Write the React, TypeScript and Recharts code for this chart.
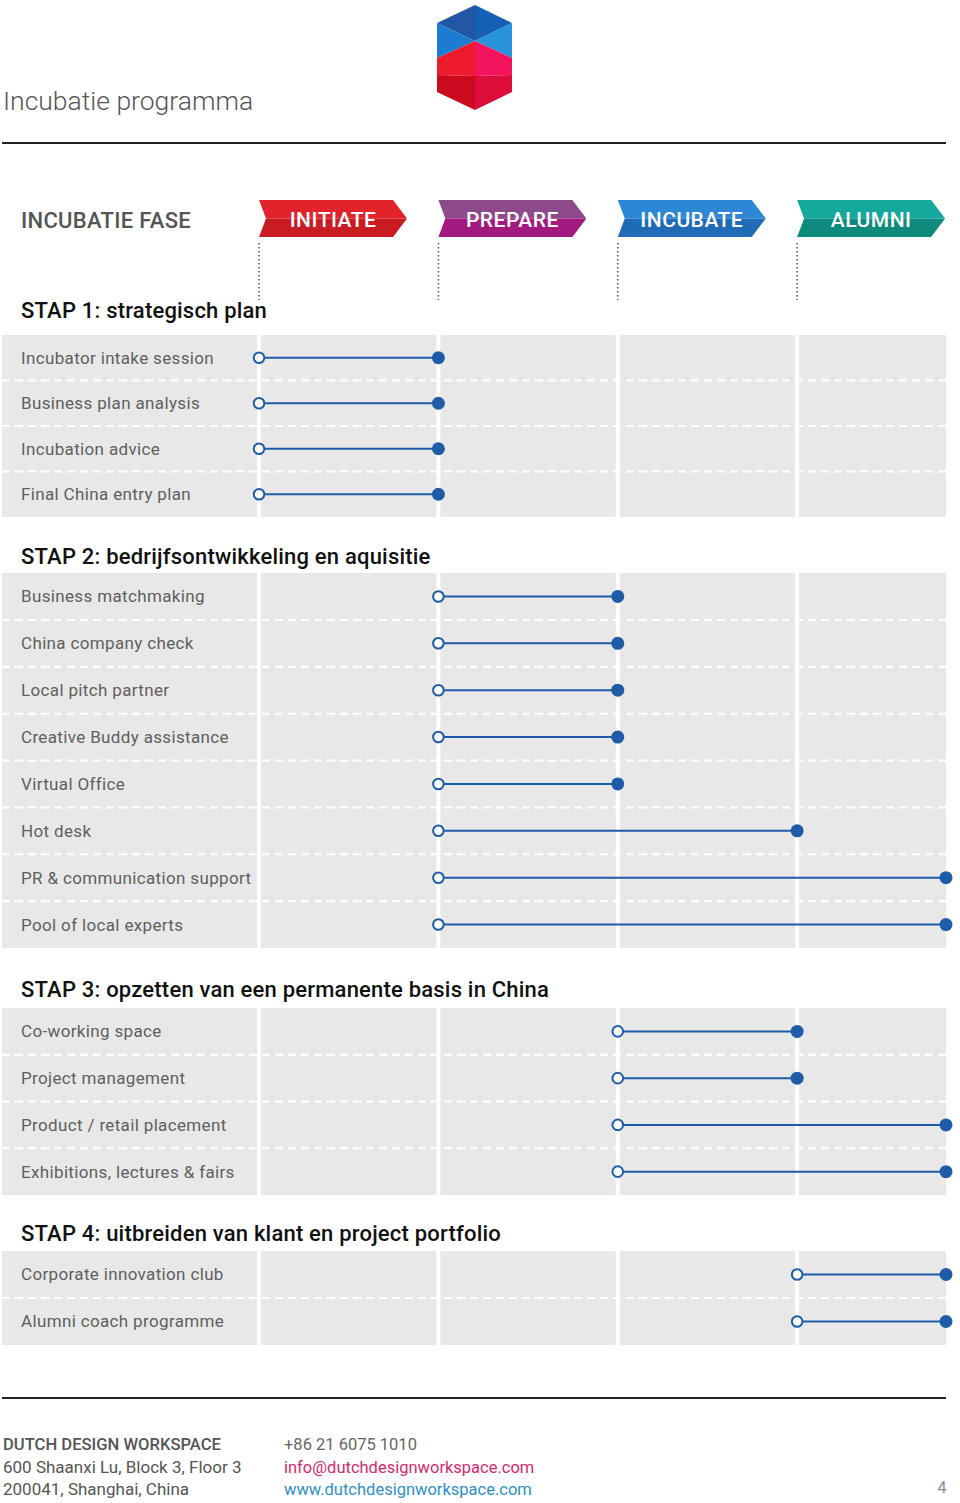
import React from "react";
import { ScatterChart, Scatter, XAxis, YAxis, CartesianGrid } from "recharts";

const PHASES = ["INITIATE", "PREPARE", "INCUBATE", "ALUMNI"];
const PHASE_TOP = ["#e3232b", "#8d4a8b", "#2c87d6", "#14a99c"];
const PHASE_BOTTOM = ["#c91b22", "#a2197f", "#1f6bb8", "#0e8b7c"];
// edges of the phases on the x axis, alumni is open ended so it is drawn shorter
const PHASE_EDGES = [0, 1, 2, 3, 3.83];

const STAP1_ITEMS = ["Incubator intake session", "Business plan analysis", "Incubation advice", "Final China entry plan"];
const STAP1_FROM = [0, 0, 0, 0];
const STAP1_TO = [1, 1, 1, 1];

const STAP2_ITEMS = [
  "Business matchmaking",
  "China company check",
  "Local pitch partner",
  "Creative Buddy assistance",
  "Virtual Office",
  "Hot desk",
  "PR & communication support",
  "Pool of local experts"
];
const STAP2_FROM = [1, 1, 1, 1, 1, 1, 1, 1];
const STAP2_TO = [2, 2, 2, 2, 2, 3, 4, 4];

const STAP3_ITEMS = ["Co-working space", "Project management", "Product / retail placement", "Exhibitions, lectures & fairs"];
const STAP3_FROM = [2, 2, 2, 2];
const STAP3_TO = [3, 3, 4, 4];

const STAP4_ITEMS = ["Corporate innovation club", "Alumni coach programme"];
const STAP4_FROM = [3, 3];
const STAP4_TO = [4, 4];

const STAP_TITLES = [
  "STAP 1: strategisch plan",
  "STAP 2: bedrijfsontwikkeling en aquisitie",
  "STAP 3: opzetten van een permanente basis in China",
  "STAP 4: uitbreiden van klant en project portfolio"
];

// layout
const FONT = "Roboto, 'DejaVu Sans', sans-serif";
const BLUE = "#1f5ca8";
const W = 960;
const MARGIN = { top: 0, right: 14, bottom: 0, left: 2 };
const X_DOMAIN: [number, number] = [-1.433, 3.83];
const HEAD_Y = [318, 564, 997, 1241];
const BLOCK_TOP = [335, 573, 1008, 1251];
const BLOCK_H = [182, 375, 187, 94];

const sections = [
  { items: STAP1_ITEMS, from: STAP1_FROM, to: STAP1_TO },
  { items: STAP2_ITEMS, from: STAP2_FROM, to: STAP2_TO },
  { items: STAP3_ITEMS, from: STAP3_FROM, to: STAP3_TO },
  { items: STAP4_ITEMS, from: STAP4_FROM, to: STAP4_TO }
];

function RowLabel(props: any) {
  return (
    <text x={props.cx + 19} y={props.cy} dy="0.35em" fontSize={17} fill="#5f5f5f" fontFamily={FONT} letterSpacing={0.35}>
      {props.payload.name}
    </text>
  );
}

function RowDot(props: any) {
  if (props.payload.end) return <circle cx={props.cx} cy={props.cy} r={6.5} fill={BLUE} />;
  return <circle cx={props.cx} cy={props.cy} r={5.3} fill="#fff" stroke={BLUE} strokeWidth={2} />;
}

function PhaseTick(props: any) {
  const { x, y, payload } = props;
  const i = payload.value as number;
  const top = y - 43;
  const bot = y - 6;
  const mid = (top + bot) / 2;
  const w = 148;
  return (
    <g>
      <polygon points={`${x},${top} ${x + w - 14},${top} ${x + w},${mid} ${x + 7},${mid}`} fill={PHASE_TOP[i]} />
      <polygon points={`${x + 7},${mid} ${x + w},${mid} ${x + w - 14},${bot} ${x},${bot}`} fill={PHASE_BOTTOM[i]} />
      <text x={x + 74} y={bot - 10} textAnchor="middle" fontSize={21} fontWeight={500} fill="#fff" fontFamily={FONT} letterSpacing={0.5}>
        {PHASES[i]}
      </text>
    </g>
  );
}

function PhaseHeader() {
  return (
    <div style={{ position: "absolute", left: 0, top: 198 }}>
      <ScatterChart width={W} height={102} margin={MARGIN}>
        <CartesianGrid horizontal={false} syncWithTicks stroke="#555" strokeWidth={1.5} strokeDasharray="1.5 2.5" />
        <XAxis
          type="number"
          dataKey="x"
          orientation="top"
          height={45}
          domain={X_DOMAIN}
          ticks={[0, 1, 2, 3]}
          interval={0}
          allowDataOverflow
          axisLine={false}
          tickLine={false}
          tickSize={0}
          tickMargin={0}
          tick={<PhaseTick />}
        />
        <YAxis type="number" dataKey="y" domain={[0, 1]} allowDataOverflow hide />
      </ScatterChart>
    </div>
  );
}

function Block({ idx }: { idx: number }) {
  const { items, from, to } = sections[idx];
  const n = items.length;
  const bounds = items.slice(1).map((_, i) => i + 0.5);
  const labels = items.map((name, i) => ({ x: X_DOMAIN[0], y: i, name }));
  return (
    <div style={{ position: "absolute", left: 0, top: BLOCK_TOP[idx] }}>
      <ScatterChart width={W} height={BLOCK_H[idx]} margin={MARGIN}>
        <CartesianGrid fill="#e8e8e8" fillOpacity={1} vertical={false} syncWithTicks stroke="#fff" strokeWidth={2} strokeDasharray="8 5" />
        <CartesianGrid horizontal={false} syncWithTicks stroke="#fff" strokeWidth={4} />
        <XAxis type="number" dataKey="x" domain={X_DOMAIN} ticks={[0, 1, 2, 3]} interval={0} hide />
        <YAxis type="number" dataKey="y" domain={[-0.5, n - 0.5]} ticks={bounds} interval={0} reversed hide />
        <Scatter data={labels} shape={RowLabel} isAnimationActive={false} />
        {items.map((name, i) => (
          <Scatter
            key={name}
            data={[
              { x: PHASE_EDGES[from[i]], y: i, end: false },
              { x: PHASE_EDGES[to[i]], y: i, end: true }
            ]}
            line={{ stroke: BLUE, strokeWidth: 2 }}
            shape={RowDot}
            isAnimationActive={false}
          />
        ))}
      </ScatterChart>
    </div>
  );
}

function Decor() {
  return (
    <svg width={W} height={1503} style={{ position: "absolute", left: 0, top: 0 }}>
      {/* logo */}
      <polygon points="475,5 437,23 475,41" fill="#2456a6" />
      <polygon points="475,5 512,23 475,41" fill="#1660b6" />
      <polygon points="437,23 475,41 437,58" fill="#1a7dd2" />
      <polygon points="512,23 475,41 512,58" fill="#2893da" />
      <polygon points="437,58 475,41 475,76 437,75" fill="#ec1c2e" />
      <polygon points="512,58 475,41 475,76 512,75" fill="#f4145e" />
      <polygon points="437,75 475,76 475,110 437,92" fill="#cc0a1e" />
      <polygon points="512,75 475,76 475,110 512,92" fill="#dc0d3a" />

      <text x={3} y={110} fontSize={26.5} fontWeight={300} fill="#555" fontFamily={FONT}>
        Incubatie programma
      </text>
      <rect x={2} y={142} width={944} height={2} fill="#222" />

      <text x={21} y={228} fontSize={22} fontWeight={500} fill="#555" fontFamily={FONT} letterSpacing={0.3}>
        INCUBATIE FASE
      </text>

      {STAP_TITLES.map((t, i) => (
        <text key={t} x={21} y={HEAD_Y[i]} fontSize={22} fontWeight={500} fill="#111" fontFamily={FONT} letterSpacing={0.2}>
          {t}
        </text>
      ))}

      <rect x={2} y={1397} width={944} height={2} fill="#222" />
      <g fontFamily={FONT}>
        <text x={3} y={1450} fill="#555" fontWeight={500} fontSize={16.6}>DUTCH DESIGN WORKSPACE</text>
        <text x={3} y={1473} fill="#555" fontSize={17}>600 Shaanxi Lu, Block 3, Floor 3</text>
        <text x={3} y={1495} fill="#555" fontSize={17}>200041, Shanghai, China</text>
        <text x={284} y={1450} fill="#666" fontSize={16.5}>+86 21 6075 1010</text>
        <text x={284} y={1473} fill="#d42a6e" fontSize={16.5}>info@dutchdesignworkspace.com</text>
        <text x={284} y={1495} fill="#2e8fc6" fontSize={16.5}>www.dutchdesignworkspace.com</text>
        <text x={942} y={1493} fill="#888" fontSize={16} textAnchor="middle">4</text>
      </g>
    </svg>
  );
}

export default function App() {
  return (
    <div style={{ position: "absolute", left: 0, top: 0, width: W, height: 1503, background: "#fff", overflow: "hidden" }}>
      <Decor />
      <PhaseHeader />
      {sections.map((_, i) => (
        <Block key={i} idx={i} />
      ))}
    </div>
  );
}
